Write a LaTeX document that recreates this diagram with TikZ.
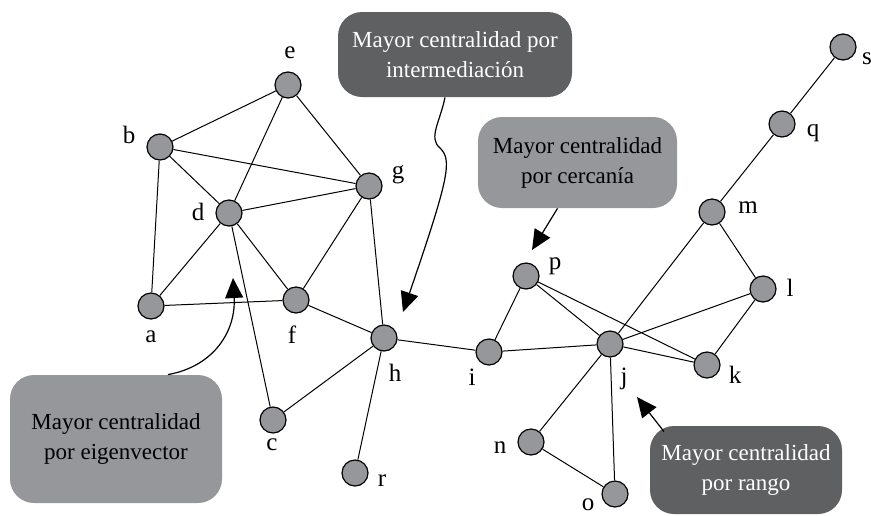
\documentclass[tikz,border=0pt]{standalone}
\usepackage{fontspec}
\setmainfont{Liberation Serif}
\usetikzlibrary{arrows.meta}
\definecolor{vgray}{RGB}{150,151,155}
\definecolor{bdark}{RGB}{95,96,98}
\begin{document}
\begin{tikzpicture}[x=0.5pt,y=-0.5pt,
    vertex/.style={circle,draw,fill=vgray,line width=0.6pt,minimum size=13pt,inner sep=0pt},
    lbl/.style={font=\fontsize{12.5}{14}\selectfont,inner sep=0pt},
    callout/.style={rounded corners=12pt,align=center,inner sep=0pt,font=\fontsize{11.5}{15}\selectfont},
    lightbox/.style={callout,fill=vgray,text=black},
    darkbox/.style={callout,fill=bdark,text=white},
    pointer/.style={-{Triangle[length=10pt,width=9pt]},line width=0.6pt},
    link/.style={line width=0.5pt}]

    \useasboundingbox (0,0) rectangle (871,515);

    % left cluster
    \node[vertex] (e) at (288,85) {};
    \node[vertex] (b) at (160,147) {};
    \node[vertex] (g) at (369,186) {};
    \node[vertex] (d) at (229,213) {};
    \node[vertex] (a) at (151,306) {};
    \node[vertex] (f) at (296,300) {};
    \node[vertex] (h) at (384,338) {};
    \node[vertex] (c) at (273,420) {};
    \node[vertex] (r) at (355,473) {};

    % right cluster
    \node[vertex] (i) at (489,352) {};
    \node[vertex] (p) at (526,276) {};
    \node[vertex] (j) at (610,344) {};
    \node[vertex] (k) at (707,365) {};
    \node[vertex] (l) at (763,289) {};
    \node[vertex] (m) at (712,212) {};
    \node[vertex] (q) at (782,124) {};
    \node[vertex] (s) at (843,47) {};
    \node[vertex] (n) at (531,442) {};
    \node[vertex] (o) at (615,494) {};

    \node[lbl] (le) at (290,53) {e};
    \node[lbl] (lb) at (129,135) {b};
    \node[lbl] (lg) at (398,175) {g};
    \node[lbl] (ld) at (198,212) {d};
    \node[lbl] (la) at (151,337) {a};
    \node[lbl] (lf) at (292,335) {f};
    \node[lbl] (lh) at (395,373) {h};
    \node[lbl] (lc) at (272,445) {c};
    \node[lbl] (lr) at (382,481) {r};
    \node[lbl] (li) at (472,377) {i};
    \node[lbl] (lp) at (555,266) {p};
    \node[lbl] (lj) at (624,379) {j};
    \node[lbl] (lk) at (735,375) {k};
    \node[lbl] (ll) at (790,288) {l};
    \node[lbl] (lm) at (748,208) {m};
    \node[lbl] (lq) at (813,133) {q};
    \node[lbl] (ls) at (867,59) {s};
    \node[lbl] (ln) at (500,448) {n};
    \node[lbl] (lo) at (588,505) {o};

    \draw[link] (e) -- (b);
    \draw[link] (e) -- (d);
    \draw[link] (e) -- (g);
    \draw[link] (b) -- (d);
    \draw[link] (b) -- (g);
    \draw[link] (b) -- (a);
    \draw[link] (d) -- (g);
    \draw[link] (d) -- (a);
    \draw[link] (d) -- (f);
    \draw[link] (d) -- (c);
    \draw[link] (g) -- (f);
    \draw[link] (g) -- (h);
    \draw[link] (a) -- (f);
    \draw[link] (f) -- (h);
    \draw[link] (h) -- (c);
    \draw[link] (h) -- (r);
    \draw[link] (h) -- (i);

    \draw[link] (i) -- (p);
    \draw[link] (i) -- (j);
    \draw[link] (p) -- (j);
    \draw[link] (p) -- (k);
    \draw[link] (j) -- (k);
    \draw[link] (j) -- (l);
    \draw[link] (j) -- (m);
    \draw[link] (j) -- (n);
    \draw[link] (j) -- (o);
    \draw[link] (m) -- (l);
    \draw[link] (l) -- (k);
    \draw[link] (m) -- (q);
    \draw[link] (q) -- (s);
    \draw[link] (n) -- (o);

    % callouts
    \node[darkbox,minimum width=117pt,minimum height=42.5pt] (inter) at (455,54.5)
        {Mayor centralidad por\\intermediación};
    \node[lightbox,minimum width=99.5pt,minimum height=45.5pt] (cerca) at (577.5,162.5)
        {Mayor centralidad\\por cercanía};
    \node[lightbox,minimum width=106pt,minimum height=64pt] (eigen) at (116,439)
        {Mayor centralidad\\por eigenvector};
    \node[darkbox,minimum width=96pt,minimum height=44pt] (rango) at (746,470)
        {Mayor centralidad\\por rango};

    \coordinate (tinter) at (403,312);
    \coordinate (tcerca) at (532,250);
    \coordinate (teigen) at (233,278);
    \coordinate (trango) at (637,397);

    \draw[pointer] ([xshift=-5pt]inter.south) .. controls (440,122) and (428,138) .. (440,148)
        .. controls (452,160) and (450,175) .. (tinter);
    \draw[pointer] ([xshift=-10pt]cerca.south) -- (tcerca);
    \draw[pointer] ([xshift=26pt]eigen.north) .. controls (215,366) and (236,330) .. (teigen);
    \draw[pointer] ([xshift=-41pt,yshift=-3pt]rango.north) -- (trango);

\end{tikzpicture}
\end{document}
